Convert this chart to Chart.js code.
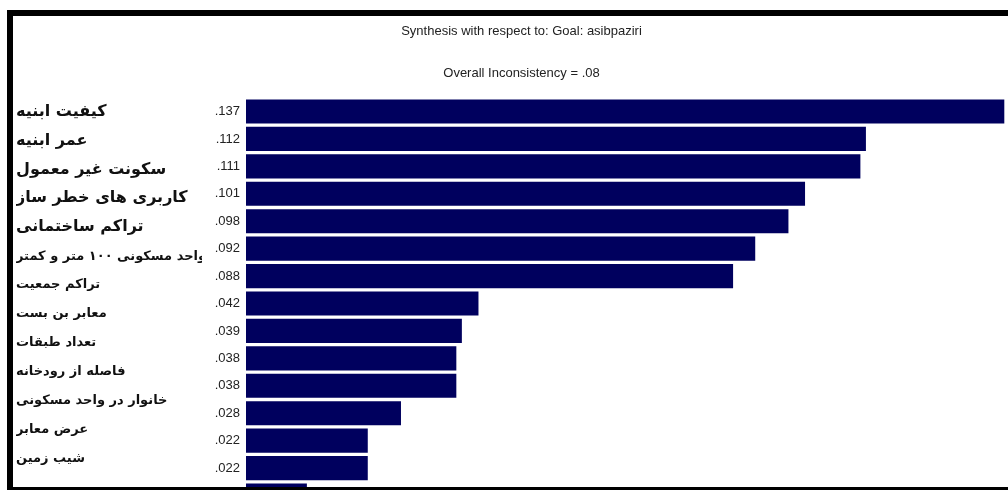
<!DOCTYPE html>
<html>
<head>
<meta charset="utf-8">
<script src="https://cdn.jsdelivr.net/npm/chart.js@4.4.1/dist/chart.umd.min.js"></script>
<style>
    html, body { margin: 0; padding: 0; background: #fff; overflow: hidden; }
    #frame {
        position: absolute; left: 7px; top: 10px; width: 1020px; height: 480px;
        box-sizing: border-box;
        border-top: 6px solid #000; border-left: 6px solid #000; border-bottom: 3px solid #000;
        overflow: hidden;
    }
    #wrap { position: absolute; left: 0; top: 0; width: 1014px; height: 507px; }
</style>
</head>
<body>
<div id="frame"><div id="wrap"><canvas id="ahpChart"></canvas></div></div>
<script>
    // Chart data
    const criteria = [
        'کیفیت ابنیه',
        'عمر ابنیه',
        'سکونت غیر معمول',
        'کاربری های خطر ساز',
        'تراکم ساختمانی',
        'واحد مسکونی ۱۰۰ متر و کمتر',
        'تراکم جمعیت',
        'معابر بن بست',
        'تعداد طبقات',
        'فاصله از رودخانه',
        'خانوار در واحد مسکونی',
        'عرض معابر',
        'شیب زمین'
    ];
    const weights = [0.137, 0.112, 0.111, 0.101, 0.098, 0.092, 0.088, 0.042, 0.039, 0.038, 0.038, 0.028, 0.022, 0.022, 0.011];
    const weightLabels = ['.137', '.112', '.111', '.101', '.098', '.092', '.088', '.042', '.039', '.038', '.038', '.028', '.022', '.022', '.011'];
    const titleText = 'Synthesis with respect to: Goal: asibpaziri';
    const subtitleText = 'Overall Inconsistency = .08';

    // the name column was pasted with its own spacing, a bit looser than the bars
    const namePitch = 1.055;

    const narrowFont = "'Liberation Sans Narrow', 'Arial Narrow', 'Liberation Sans', sans-serif";

    document.addEventListener('DOMContentLoaded', function() {
        const ctx = document.getElementById('ahpChart').getContext('2d');
        new Chart(ctx, {
            type: 'bar',
            data: {
                labels: weightLabels,
                datasets: [{
                    data: weights,
                    backgroundColor: '#00005e',
                    borderWidth: 0,
                    barPercentage: 0.88,
                    categoryPercentage: 1.0,
                    yAxisID: 'yv'
                }]
            },
            options: {
                indexAxis: 'y',
                responsive: true,
                maintainAspectRatio: false,
                animation: false,
                layout: { padding: { left: 3, right: 0, top: 0, bottom: 7.5 } },
                plugins: {
                    legend: { display: false },
                    tooltip: { enabled: false },
                    title: {
                        display: true,
                        text: titleText,
                        color: '#222',
                        font: { family: narrowFont, size: 13, weight: 'normal' },
                        padding: { top: 8, bottom: 13 }
                    },
                    subtitle: {
                        display: true,
                        text: subtitleText,
                        color: '#222',
                        font: { family: narrowFont, size: 13, weight: 'normal' },
                        padding: { top: 13, bottom: 16.6 }
                    }
                },
                scales: {
                    x: {
                        display: false,
                        min: 0,
                        max: 0.1411
                    },
                    yv: {
                        type: 'category',
                        position: 'left',
                        weight: 1,
                        labels: weightLabels,
                        grid: { display: false, drawTicks: false },
                        border: { display: false },
                        ticks: {
                            color: '#222',
                            padding: 6,
                            font: { family: narrowFont, size: 13 }
                        },
                        afterFit: function(scale) { scale.width = 44; }
                    },
                    yp: {
                        type: 'linear',
                        position: 'left',
                        weight: 2,
                        reverse: true,
                        offset: false,
                        grace: 0,
                        min: 0,
                        max: weights.length,
                        grid: { display: false, drawTicks: false, offset: false },
                        border: { display: false },
                        afterBuildTicks: function(scale) {
                            scale.ticks = criteria.map((name, i) => ({ value: 0.5 + i * namePitch }));
                        },
                        ticks: {
                            color: '#111',
                            crossAlign: 'far',
                            padding: 0,
                            autoSkip: false,
                            callback: function(value, index) { return criteria[index]; },
                            font: function(c) {
                                return {
                                    family: "'DejaVu Sans', 'Noto Sans', sans-serif",
                                    size: c.index < 5 ? 16 : 13,
                                    weight: 'bold'
                                };
                            }
                        },
                        afterFit: function(scale) { scale.width = 186; }
                    }
                }
            }
        });
    });
</script>
</body>
</html>
